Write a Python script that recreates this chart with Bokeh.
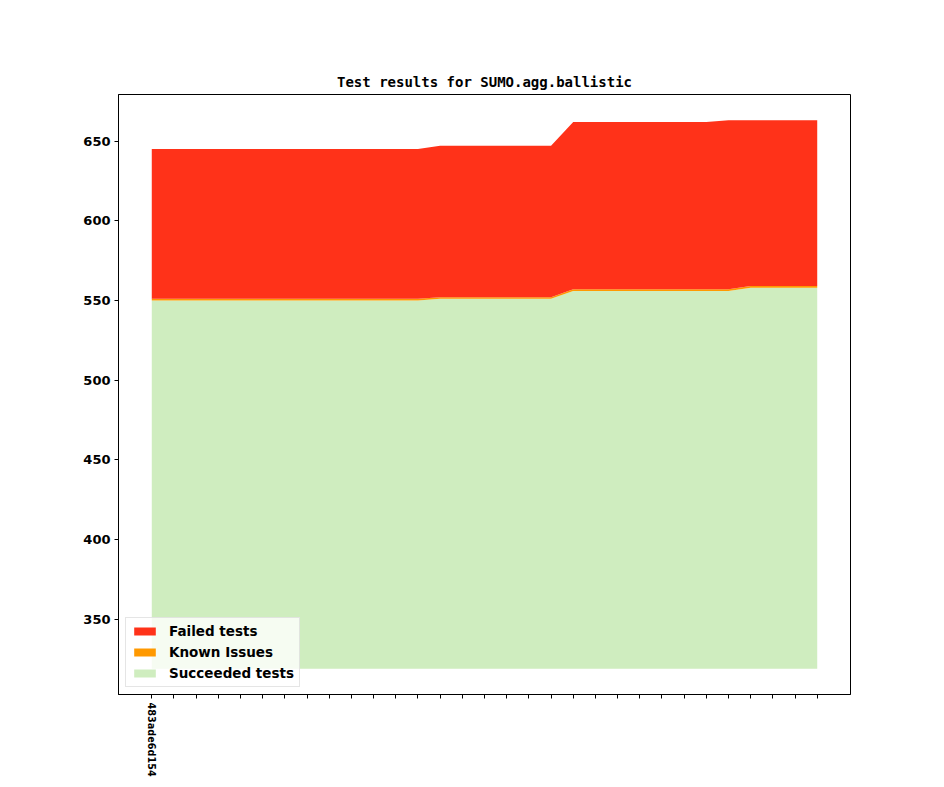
from bokeh.plotting import figure
from bokeh.models import Range1d, FixedTicker, Legend, LegendItem, ColumnDataSource
from bokeh.embed import file_html
from bokeh.resources import INLINE

# ---- data ----
x_index = list(range(31))
tick_labels = ["483ade6d154"] + [""] * 30
succeeded = [550, 550, 550, 550, 550, 550, 550, 550, 550, 550, 550, 550, 550,
             551, 551, 551, 551, 551, 551,
             556, 556, 556, 556, 556, 556, 556, 556,
             558, 558, 558, 558]
known = [1, 1, 1, 1, 1, 1, 1, 1, 1, 1, 1, 1, 1,
         1, 1, 1, 1, 1, 1,
         1, 1, 1, 1, 1, 1, 1, 1,
         1, 1, 1, 1]
failed = [94, 94, 94, 94, 94, 94, 94, 94, 94, 94, 94, 94, 94,
          95, 95, 95, 95, 95, 95,
          105, 105, 105, 105, 105, 105, 105, 106,
          104, 104, 104, 104]
baseline = 319
title_text = "Test results for SUMO.agg.ballistic"

# ---- stacking ----
s_top = list(succeeded)
k_top = [s + k for s, k in zip(succeeded, known)]
f_top = [kt + f for kt, f in zip(k_top, failed)]
src = ColumnDataSource(dict(x=x_index, base=[baseline] * len(x_index),
                            s=s_top, k=k_top, f=f_top))

RED = "#ff3219"
ORANGE = "#ff9900"
GREEN = "#cfedbf"

p = figure(width=928, height=779, output_backend="svg", toolbar_location=None,
           x_range=Range1d(-1.5, 31.5), y_range=Range1d(302.8, 679.2),
           min_border_left=118, min_border_right=78, min_border_top=94,
           min_border_bottom=60)

g = p.varea(x="x", y1="base", y2="s", source=src, fill_color=GREEN)
o = p.varea(x="x", y1="s", y2="k", source=src, fill_color=ORANGE)
r = p.varea(x="x", y1="k", y2="f", source=src, fill_color=RED)

p.title.text = title_text
p.title.text_font = "DejaVu Sans Mono"
p.title.text_font_style = "bold"
p.title.text_font_size = "14px"
p.title.text_color = "black"
p.title.align = "center"
p.title.standoff = 9

p.grid.visible = False
p.outline_line_color = "black"
p.outline_line_width = 1
p.background_fill_color = "white"
p.border_fill_color = "white"

for ax in (p.xaxis[0], p.yaxis[0]):
    ax.axis_line_color = "black"
    ax.major_tick_line_color = "black"
    ax.major_tick_out = 4
    ax.major_tick_in = 0
    ax.minor_tick_line_color = None
    ax.major_label_text_font = "DejaVu Sans"
    ax.major_label_text_font_style = "bold"
    ax.major_label_text_color = "black"

p.yaxis.ticker = FixedTicker(ticks=[350, 400, 450, 500, 550, 600, 650])
p.yaxis.major_label_text_font_size = "13px"
p.yaxis.major_label_standoff = 4

p.xaxis.ticker = FixedTicker(ticks=x_index)
p.xaxis.major_label_overrides = {i: lab for i, lab in zip(x_index, tick_labels)}
p.xaxis.major_label_orientation = "vertical"
p.xaxis.major_label_text_font_size = "9.7px"
p.xaxis.major_label_standoff = 4

legend = Legend(items=[LegendItem(label="Failed tests", renderers=[r]),
                       LegendItem(label="Known Issues", renderers=[o]),
                       LegendItem(label="Succeeded tests", renderers=[g])],
                location="bottom_left")
legend.margin = 7
legend.padding = 5
legend.spacing = 5
legend.glyph_width = 27
legend.glyph_height = 10
legend.label_height = 14
legend.label_standoff = 11
legend.label_text_font = "DejaVu Sans"
legend.label_text_font_style = "bold"
legend.label_text_font_size = "13.5px"
legend.label_text_color = "black"
legend.background_fill_color = "white"
legend.background_fill_alpha = 0.8
legend.border_line_color = "#cccccc"
legend.border_line_width = 1
p.add_layout(legend)

open("out.html", "w").write(file_html(p, INLINE))
